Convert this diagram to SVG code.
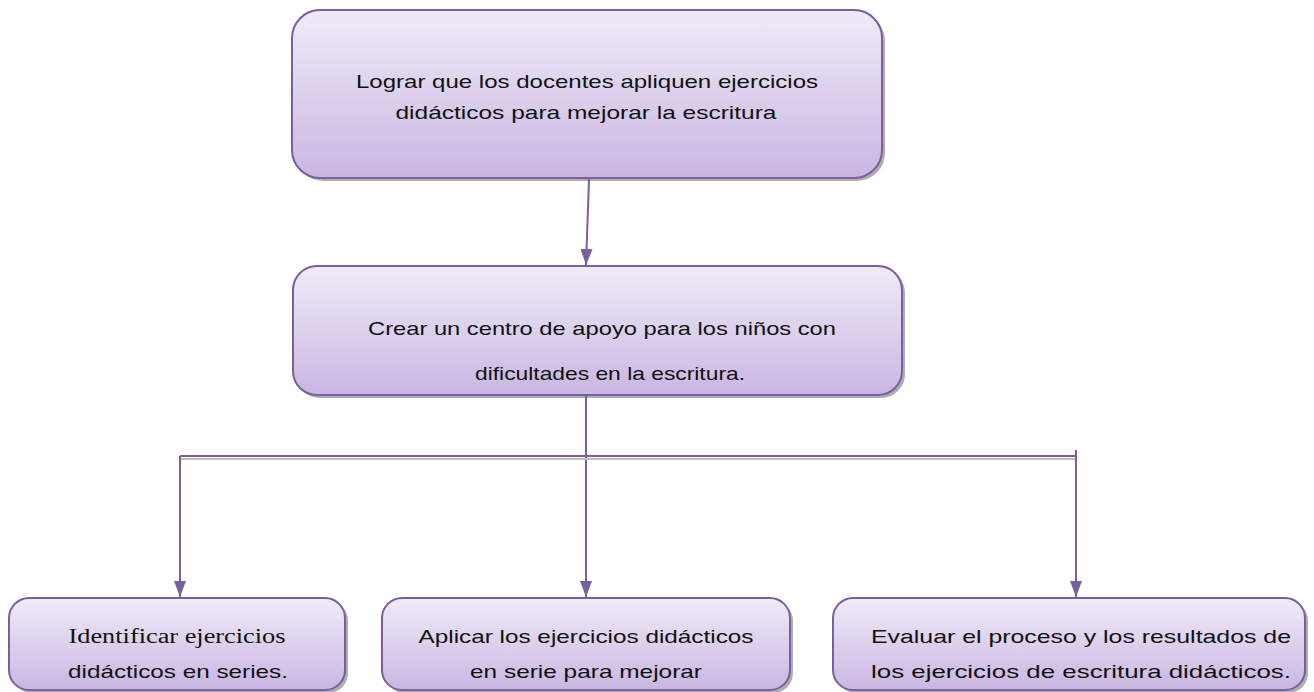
<svg xmlns="http://www.w3.org/2000/svg" width="1314" height="692" viewBox="0 0 1314 692">
  <defs>
    <linearGradient id="boxFill" x1="0" y1="0" x2="0" y2="1">
      <stop offset="0" stop-color="#F0EBF8"/>
      <stop offset="1" stop-color="#C9B6E2"/>
    </linearGradient>
    <marker id="arrow" markerWidth="16" markerHeight="12" refX="16" refY="6" orient="auto" markerUnits="userSpaceOnUse" viewBox="0 0 16 12">
      <path d="M0,0 L16,6 L0,12 Z" fill="#7A5F9E"/>
    </marker>
  </defs>
  <style>
    .box { fill: url(#boxFill); stroke: #7A5F9E; stroke-width: 2; }
    .shadow { fill: #9A9A9A; opacity: 0.8; }
    .t { font-family: "Liberation Sans", Arial, sans-serif; font-size: 19px; fill: #111; text-anchor: middle; }
    .ts { font-family: "Liberation Serif", "Times New Roman", serif; font-size: 20px; fill: #111; text-anchor: middle; }
    .line { stroke: #7A5F9E; stroke-width: 2; fill: none; }
    .gray { stroke: #BDBDBD; stroke-width: 2; fill: none; }
  </style>

  <g id="node-top">
    <rect class="shadow" x="295" y="13" width="590" height="168" rx="28"/>
    <rect class="box" x="292" y="10" width="590" height="168" rx="28"/>
    <text class="t" x="587" y="88" textLength="462" lengthAdjust="spacingAndGlyphs">Lograr que los docentes apliquen ejercicios</text>
    <text class="t" x="586" y="119" textLength="381" lengthAdjust="spacingAndGlyphs">didácticos para mejorar la escritura</text>
  </g>

  <g id="node-middle">
    <rect class="shadow" x="296" y="269" width="609" height="129" rx="24"/>
    <rect class="box" x="293" y="266" width="609" height="129" rx="24"/>
    <text class="t" x="602" y="335" textLength="468" lengthAdjust="spacingAndGlyphs">Crear un centro de  apoyo para los niños con</text>
    <text class="t" x="610" y="380" textLength="270" lengthAdjust="spacingAndGlyphs">dificultades en la escritura.</text>
  </g>

  <g id="node-b1">
    <rect class="shadow" x="12" y="601" width="336" height="92" rx="20"/>
    <rect class="box" x="9" y="598" width="336" height="92" rx="20"/>
    <text class="ts" x="177" y="643" textLength="217" lengthAdjust="spacingAndGlyphs">Identificar ejercicios</text>
    <text class="t" x="178" y="678" textLength="220" lengthAdjust="spacingAndGlyphs">didácticos en series.</text>
  </g>

  <g id="node-b2">
    <rect class="shadow" x="385" y="601" width="408" height="92" rx="20"/>
    <rect class="box" x="382" y="598" width="408" height="92" rx="20"/>
    <text class="t" x="586" y="643" textLength="335" lengthAdjust="spacingAndGlyphs">Aplicar los ejercicios didácticos</text>
    <text class="t" x="586" y="678" textLength="232" lengthAdjust="spacingAndGlyphs">en serie para mejorar</text>
  </g>

  <g id="node-b3">
    <rect class="shadow" x="836" y="601" width="472" height="92" rx="20"/>
    <rect class="box" x="833" y="598" width="472" height="92" rx="20"/>
    <text class="t" x="1081" y="643" textLength="420" lengthAdjust="spacingAndGlyphs">Evaluar el proceso y los resultados de</text>
    <text class="t" x="1081" y="678" textLength="420" lengthAdjust="spacingAndGlyphs">los ejercicios de escritura didácticos.</text>
  </g>

  <g id="connectors">
    <line class="line" x1="589" y1="179" x2="586" y2="265" marker-end="url(#arrow)"/>
    <line class="line" x1="586" y1="396" x2="586" y2="597" marker-end="url(#arrow)"/>
    <line class="gray" x1="180" y1="459" x2="1076" y2="459"/>
    <line class="line" x1="180" y1="456" x2="1076" y2="456"/>
    <line class="line" x1="180" y1="456" x2="180" y2="597" marker-end="url(#arrow)"/>
    <line class="line" x1="1076" y1="450" x2="1076" y2="597" marker-end="url(#arrow)"/>
  </g>
</svg>
